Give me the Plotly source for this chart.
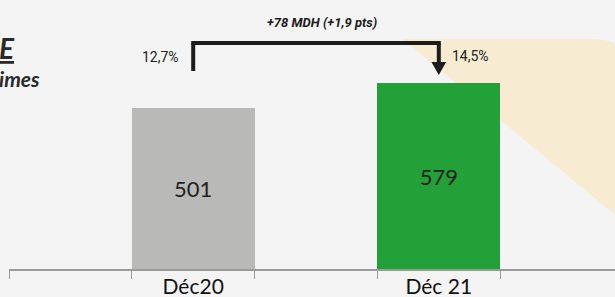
import plotly.graph_objects as go

# ---- data ----
slots = [" ", "Déc20", "  ", "Déc 21", "   "]
categories = ["Déc20", "Déc 21"]
values = [501, 579]
rates = ["12,7%", "14,5%"]
delta_label = "+78 MDH (+1,9 pts)"
bar_colors = ["#b9b9b8", "#23a038"]

W, H = 615, 297
ML, MB = 9, 28
plot_w = W - ML
slot_px = 122.8

fig = go.Figure()
fig.add_trace(go.Bar(
    x=categories, y=values, width=1.0,
    marker=dict(color=bar_colors, line=dict(width=0)),
    text=[str(v) for v in values], textposition="inside",
    insidetextanchor="middle", textangle=0,
    textfont=dict(family="Lato", size=22, color="#222222"),
    cliponaxis=False, hoverinfo="skip",
))

i0 = slots.index(categories[0])
i1 = slots.index(categories[1])

def py(p):  # pixel y from top -> paper
    return (H - MB - p) / (H - MB)

def px(p):  # pixel x -> paper
    return (p - ML) / plot_w

line = dict(color="#1c1c1c", width=4)
shapes = [
    # beige background band
    dict(type="path", xref="paper", yref="paper", layer="below",
         path=f"M {px(403)},{py(39)} L {px(590)},{py(39)} Q {px(615)},{py(39)} {px(615)},{py(48)} L {px(615)},{py(215)} Z",
         fillcolor="#f7ecd1", line=dict(width=0)),
    # bracket
    dict(type="line", xref="x", yref="paper", x0=i0, x1=i0, y0=py(71), y1=py(43), line=line),
    dict(type="line", xref="x", yref="paper", x0=i0 - 0.016, x1=i1 + 0.016, y0=py(43), y1=py(43), line=line),
    dict(type="line", xref="x", yref="paper", x0=i1, x1=i1, y0=py(43), y1=py(63), line=line),
    dict(type="path", xref="x", yref="paper",
         path=f"M {i1 - 0.06},{py(62)} L {i1 + 0.06},{py(62)} L {i1},{py(75)} Z",
         fillcolor="#1c1c1c", line=dict(width=0)),
]

cond = "Liberation Sans Narrow, Arial Narrow, Roboto"
annotations = [
    dict(x=i0, y=py(57), xref="x", yref="paper", text=rates[0], showarrow=False,
         xanchor="right", yanchor="middle", xshift=-12,
         font=dict(family=cond, size=14, color="#222222")),
    dict(x=i1, y=py(56), xref="x", yref="paper", text=rates[1], showarrow=False,
         xanchor="left", yanchor="middle", xshift=11,
         font=dict(family=cond, size=14, color="#222222")),
    dict(x=(i0 + i1) / 2 + 0.05, y=py(22), xref="x", yref="paper", text=delta_label,
         showarrow=False, xanchor="center", yanchor="middle",
         font=dict(family=cond, size=13, color="#1c1c1c", weight="bold", style="italic")),
    dict(x=0, y=1 - 53 / H, xref="paper", yref="paper", text="E", showarrow=False,
         xanchor="left", yanchor="middle", xshift=-ML - 3,
         font=dict(family="Lato", size=28, color="#2a2a2a", weight="bold", style="italic",
                   lineposition="under")),
    dict(x=0, y=1 - 87 / H, xref="paper", yref="paper", text="imes", showarrow=False,
         xanchor="left", yanchor="middle", xshift=-ML - 3,
         font=dict(family="Lato", size=21, color="#2a2a2a", weight="bold", style="italic")),
]

fig.update_layout(
    width=W, height=H,
    margin=dict(l=ML, r=0, t=0, b=MB, autoexpand=False),
    paper_bgcolor="#f4f4f4", plot_bgcolor="rgba(0,0,0,0)",
    showlegend=False, bargap=0,
    shapes=shapes, annotations=annotations,
    xaxis=dict(type="category", categoryorder="array", categoryarray=slots,
               range=[-0.5, -0.5 + plot_w / slot_px], automargin=False,
               tickson="boundaries", ticks="outside", ticklen=8, tickwidth=1,
               tickcolor="#9a9a9a", showline=True, linecolor="#9a9a9a", linewidth=1.5,
               showgrid=False, zeroline=False,
               tickfont=dict(family="Lato", size=21, color="#111111"),
               ticklabelstandoff=-2),
    yaxis=dict(range=[0, 579 * (H - MB) / 186], visible=False, showgrid=False,
               zeroline=False, automargin=False),
)
fig.write_html(
    "out.html",
    config={"displayModeBar": False, "staticPlot": True},
    post_script="document.body.style.margin='0';document.body.style.overflow='hidden';"
                "document.body.style.background='#f4f4f4';",
)
